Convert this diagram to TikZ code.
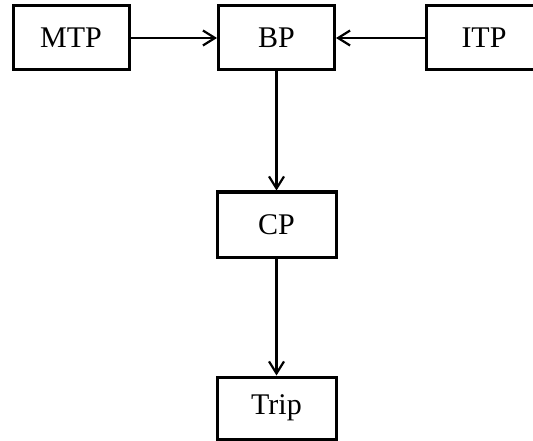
\documentclass[tikz,border=0pt]{standalone}
\usepackage{fontspec}
\setmainfont{Liberation Serif}
\usetikzlibrary{arrows.meta}
\begin{document}
\begin{tikzpicture}[x=1pt,y=-1pt,
  boxnode/.style={draw,line width=3pt,minimum width=116pt,minimum height=64pt,inner sep=0pt,font=\fontsize{30}{34}\selectfont},
  conn/.style={line width=2.2pt,-{Straight Barb[length=12pt,width=15pt,line width=2.2pt]}}]
\useasboundingbox (0,0) rectangle (533,441);
\clip (0,0) rectangle (533,441);
\node[boxnode] (mtp) at (71,38) {MTP};
\node[boxnode] (bp) at (276.5,38) {BP};
\node[boxnode] (itp) at (484,38) {ITP};
\node[boxnode,minimum width=119pt,minimum height=65pt] (cp) at (276.5,224.5) {CP};
\node[boxnode,minimum width=119pt,minimum height=62pt] (trip) at (276.5,408) {Trip};
\draw[conn] (mtp) -- (bp);
\draw[conn] (itp) -- (bp);
\draw[conn] (bp.south) -- (cp.north);
\draw[conn] (cp.south) -- (trip.north);
\end{tikzpicture}
\end{document}
